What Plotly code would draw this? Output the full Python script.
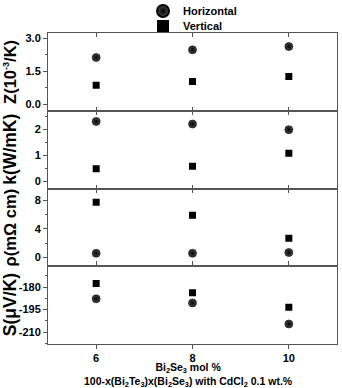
import plotly.graph_objects as go

x_vals = [6, 8, 10]
x_ticks = [6, 8, 10]
z_h = [2.13, 2.48, 2.63]
z_v = [0.86, 1.04, 1.26]
k_h = [2.30, 2.20, 1.98]
k_v = [0.48, 0.58, 1.08]
rho_h = [0.6, 0.6, 0.7]
rho_v = [7.68, 5.87, 2.68]
s_h = [-187.8, -190.5, -204.6]
s_v = [-177.5, -183.8, -193.4]

z_ticks = [0.0, 1.5, 3.0]
z_ticklabels = ["0.0", "1.5", "3.0"]
k_ticks = [0, 1, 2]
rho_ticks = [0, 4, 8]
s_ticks = [-210, -195, -180]

series_names = ["Horizontal", "Vertical"]
y_titles = ["Z(10<sup><span style='font-size:9px'>-3</span></sup>/K)", "k(W/mK)", "ρ(mΩ cm)", "S(μV/K)"]
title_sizes = [16.5, 17.5, 16.5, 17.5]
x_title = ("<b>Bi<sub>2</sub>Se<sub>3</sub> mol %<br>"
           "100-x(Bi<sub>2</sub>Te<sub>3</sub>)x(Bi<sub>2</sub>Se<sub>3</sub>) with CdCl<sub>2</sub> 0.1 wt.%</b>")
panels = [(z_h, z_v), (k_h, k_v), (rho_h, rho_v), (s_h, s_v)]
tick_sets = [(z_ticks, z_ticklabels), (k_ticks, [str(t) for t in k_ticks]),
             (rho_ticks, [str(t) for t in rho_ticks]), (s_ticks, [str(t) for t in s_ticks])]
ranges = [[-0.3, 3.25], [-0.28, 2.71], [-1.2, 9.6], [-218, -166]]
minor_d = [0.75, 0.5, 2, 7.5]
minor_0 = [0, 0, 0, -210]

FONT = "Liberation Sans, Arial, sans-serif"
AX = "#555555"

fig = go.Figure()
W, H = 342, 388
ml, mr, mt, mb = 48, 5, 33, 44
PH = H - mt - mb
PW = W - ml - mr
n = 4
for i, (h, v) in enumerate(panels):
    xa = "x" if i == 0 else f"x{i+1}"
    ya = "y" if i == 0 else f"y{i+1}"
    fig.add_trace(go.Scatter(x=x_vals, y=h, mode="markers", xaxis=xa, yaxis=ya,
                             name=f"<b>{series_names[0]}</b>", showlegend=(i == 0), legend="legend",
                             marker=dict(symbol="circle", size=8, color="#4a4a4a",
                                         gradient=dict(type="radial", color="black"),
                                         line=dict(width=0.6, color="black"))))
    fig.add_trace(go.Scatter(x=x_vals, y=v, mode="markers", xaxis=xa, yaxis=ya,
                             name=f"<b>{series_names[1]}</b>", showlegend=(i == 0), legend="legend2",
                             marker=dict(symbol="square", size=7, color="black")))

leg_common = dict(xref="paper", yref="paper", xanchor="left", yanchor="middle",
                  font=dict(size=11, family=FONT, color="black"),
                  bgcolor="rgba(0,0,0,0)", itemsizing="constant")
layout = dict(
    width=W, height=H, margin=dict(l=ml, r=mr, t=mt, b=mb, autoexpand=False),
    paper_bgcolor="white", plot_bgcolor="white",
    font=dict(family=FONT, color="black", size=10),
    showlegend=True,
    legend=dict(x=(143 - ml) / PW, y=1 + (mt - 11) / PH, **leg_common),
    legend2=dict(x=(143 - ml) / PW, y=1 + (mt - 26) / PH, **leg_common),
)
annotations = []
for i in range(n):
    top = 1 - i / n
    bot = 1 - (i + 1) / n
    xkey = "xaxis" if i == 0 else f"xaxis{i+1}"
    ykey = "yaxis" if i == 0 else f"yaxis{i+1}"
    ya = "y" if i == 0 else f"y{i+1}"
    last = (i == n - 1)
    tv, tt = tick_sets[i]
    layout[xkey] = dict(
        domain=[0, 1], anchor=ya, range=[5, 11],
        tickvals=x_ticks, ticktext=[f"<b>{t}</b>" for t in x_ticks],
        showticklabels=last, ticks="outside" if last else "inside", ticklen=4,
        tickcolor=AX, showline=True, linecolor=AX, linewidth=1, mirror="ticks",
        showgrid=False, zeroline=False,
        tickfont=dict(size=11, family=FONT, color="black"),
        **({} if i == 0 else {"matches": "x"})
    )
    layout[ykey] = dict(
        domain=[bot, top], anchor="x" if i == 0 else f"x{i+1}",
        range=ranges[i], tickmode="array", tickvals=tv, ticktext=[f"<b>{s}</b>" for s in tt],
        ticks="outside", ticklen=4, tickcolor=AX,
        minor=dict(ticks="outside", ticklen=2, tickcolor=AX, tickmode="linear",
                   dtick=minor_d[i], tick0=minor_0[i]),
        showline=True, linecolor=AX, linewidth=1, mirror=True,
        showgrid=False, zeroline=False,
        tickfont=dict(size=11, family=FONT, color="black"),
    )
    rkey = f"yaxis{n + i + 1}"
    layout[rkey] = dict(
        domain=[bot, top], anchor="x" if i == 0 else f"x{i+1}",
        overlaying=ya, side="right",
        range=ranges[i], tickmode="array", tickvals=tv,
        ticks="inside", ticklen=4, tickcolor=AX, showticklabels=False,
        minor=dict(ticks="inside", ticklen=2, tickcolor=AX, tickmode="linear",
                   dtick=minor_d[i], tick0=minor_0[i]),
        showline=False, showgrid=False, zeroline=False,
    )
    annotations.append(dict(
        text=f"<b>{y_titles[i]}</b>", xref="paper", yref="paper",
        x=-(ml - 10) / PW, y=(top + bot) / 2, textangle=-90,
        showarrow=False, font=dict(size=title_sizes[i], family=FONT, color="black"),
        xanchor="center", yanchor="middle"))

annotations.append(dict(
    text=x_title, xref="paper", yref="paper",
    x=(188 - ml) / PW, y=-(375 - (H - mb)) / PH, showarrow=False,
    font=dict(size=10.5, family=FONT, color="black"), xanchor="center", yanchor="middle",
    align="center"))
layout["annotations"] = annotations
fig.update_layout(**layout)
fig.write_html("out.html")
